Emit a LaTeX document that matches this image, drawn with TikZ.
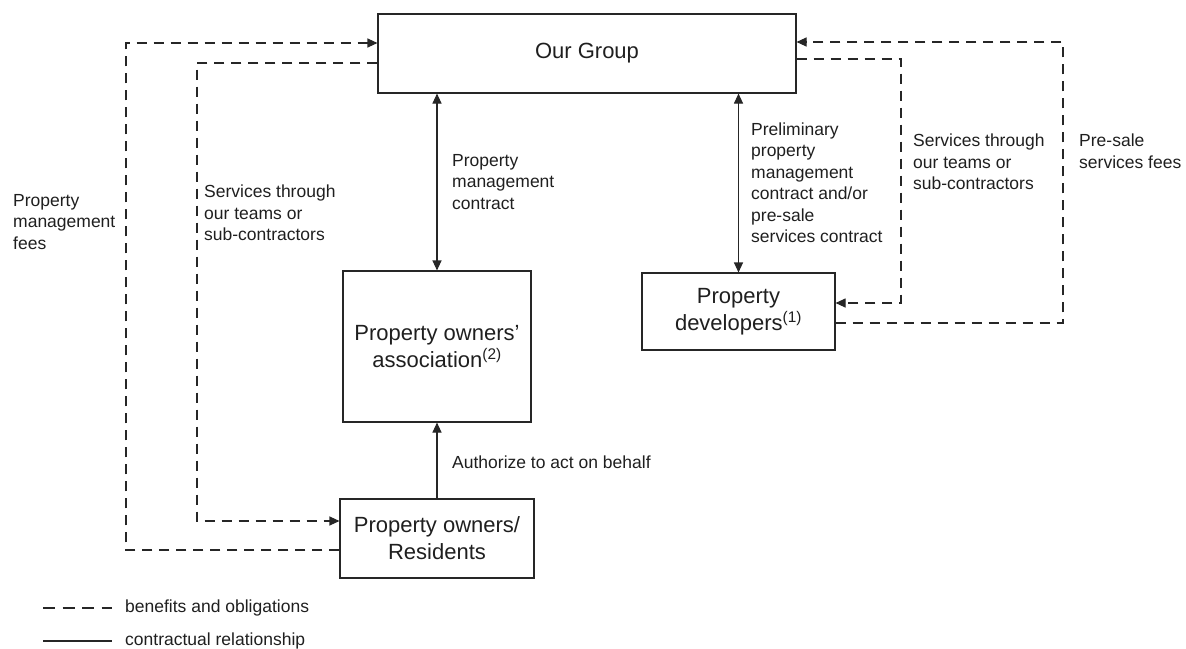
\documentclass[tikz,border=0pt]{standalone}
\usepackage{fontspec}
\setmainfont{Liberation Sans}
\usetikzlibrary{arrows.meta}
\definecolor{ink}{rgb}{0.12,0.12,0.12}
\definecolor{rule}{rgb}{0.15,0.15,0.15}
\tikzset{
  box/.style={draw=rule, line width=1.1pt, text=ink, inner sep=0pt, align=center,
              font=\fontsize{22}{27}\selectfont},
  lbl/.style={text=ink, inner sep=0pt, align=left, anchor=west,
              font=\fontsize{17.5}{21.5}\selectfont},
  solidline/.style={draw=rule, line width=1.1pt},
  dashline/.style={draw=rule, line width=1.1pt, dash pattern=on 10pt off 7pt},
  keydash/.style={draw=rule, line width=1.1pt, dash pattern=on 12pt off 7.5pt},
  tip/.style={-{Triangle[length=10pt,width=9pt]}},
  tips/.style={{Triangle[length=10pt,width=9pt]}-{Triangle[length=10pt,width=9pt]}}
}
\begin{document}
\begin{tikzpicture}[x=1pt,y=-1pt]
\useasboundingbox (0,0) rectangle (1186,648);

% entities
\node[box, minimum width=418pt, minimum height=79pt] (grp) at (587,53.5) {Our Group};
\node[box, minimum width=188pt, minimum height=151pt] (poa) at (437,346.5)
  {Property owners’\\association\textsuperscript{(2)}};
\node[box, minimum width=193pt, minimum height=77pt] (dev) at (738.5,311.5)
  {Property\\developers\textsuperscript{(1)}};
\node[box, minimum width=194pt, minimum height=79pt] (res) at (437,538.5)
  {Property owners/\\Residents};

% contractual relationships
\draw[solidline, tips] (poa.north |- grp.south) -- (poa.north);
\draw[solidline, tips] (dev.north |- grp.south) -- (dev.north);
\draw[solidline, tip] (res.north) -- (poa.south);

% benefits and obligations
\coordinate (feeL) at (126,43);
\coordinate (svcL) at (197,63);
\coordinate (svcR) at (901,59);
\coordinate (feeR) at (1063,42);
\draw[dashline, tip] (res.west |- 0,550) -| (feeL) -- (grp.west |- feeL);
\draw[dashline, tip] (grp.west |- svcL) -- (svcL) |- (res.west |- 0,521);
\draw[dashline, tip] (grp.east |- svcR) -- (svcR) |- (dev.east |- 0,303);
\draw[dashline, tip] (dev.east |- 0,323) -| (feeR) -- (grp.east |- feeR);

% labels
\node[lbl] (l1) at (13,222) {Property\\management\\fees};
\node[lbl] (l2) at (204,213) {Services through\\our teams or\\sub-contractors};
\node[lbl] (l3) at (452,182) {Property\\management\\contract};
\node[lbl] (l4) at (751,182.5) {Preliminary\\property\\management\\contract and/or\\pre-sale\\services contract};
\node[lbl] (l5) at (913,162) {Services through\\our teams or\\sub-contractors};
\node[lbl] (l6) at (1079,151) {Pre-sale\\services fees};
\node[lbl] (l7) at (452,462) {Authorize to act on behalf};

% legend
\coordinate (k1a) at (43,608);
\coordinate (k1b) at (112,608);
\coordinate (k2a) at (43,641);
\coordinate (k2b) at (112,641);
\draw[keydash] (k1a) -- (k1b);
\draw[solidline] (k2a) -- (k2b);
\node[lbl] (k1) at (125,608) {benefits and obligations};
\node[lbl] (k2) at (125,641) {contractual relationship};
\end{tikzpicture}
\end{document}
